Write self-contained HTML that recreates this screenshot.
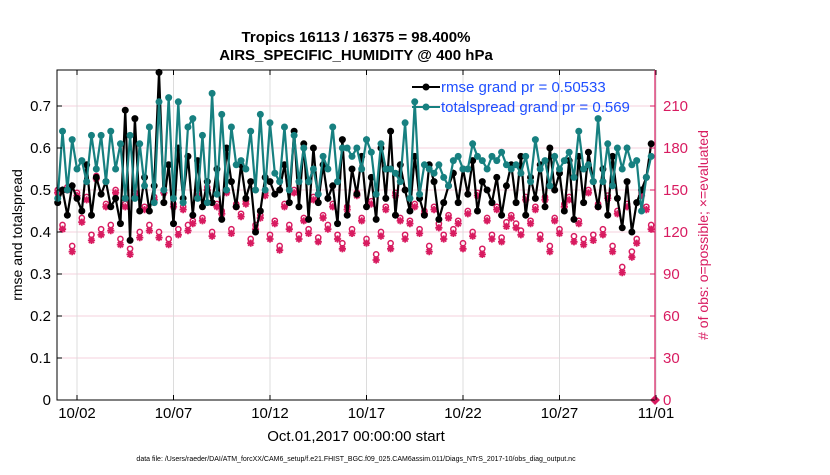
<!DOCTYPE html>
<html><head><meta charset="utf-8"><style>
body{margin:0;background:#fff;width:830px;height:470px;overflow:hidden}
svg text{font-family:"Liberation Sans",Arial,sans-serif}
</style></head><body>
<svg id="chart" width="830" height="470" xmlns="http://www.w3.org/2000/svg">
<text x="356" y="42" text-anchor="middle" font-size="15" font-weight="bold">Tropics 16113 / 16375 = 98.400%</text>
<text x="356" y="60" text-anchor="middle" font-size="15" font-weight="bold">AIRS_SPECIFIC_HUMIDITY @ 400 hPa</text>
<text transform="translate(22,235) rotate(-90)" text-anchor="middle" font-size="14">rmse and totalspread</text>
<text transform="translate(708,235) rotate(-90)" text-anchor="middle" font-size="14" fill="#d81b60"># of obs: o=possible; ×=evaluated</text>
<text x="356" y="441" text-anchor="middle" font-size="15">Oct.01,2017 00:00:00 start</text>
<text x="356" y="461" text-anchor="middle" font-size="7">data file: /Users/raeder/DAI/ATM_forcXX/CAM6_setup/f.e21.FHIST_BGC.f09_025.CAM6assim.011/Diags_NTrS_2017-10/obs_diag_output.nc</text>
<g id="grid"></g><g id="marks"></g><g id="axes"></g>
<g>
<line x1="412" y1="87" x2="440" y2="87" stroke="#000" stroke-width="2"/><circle cx="426" cy="87" r="3.5" fill="#000"/>
<text x="441" y="92" font-size="15" fill="#1f4fff">rmse grand pr = 0.50533</text>
<line x1="412" y1="107" x2="440" y2="107" stroke="#178080" stroke-width="2"/><circle cx="426" cy="107" r="3.5" fill="#178080"/>
<text x="441" y="112" font-size="15" fill="#1f4fff">totalspread grand pr = 0.569</text>
</g>
</svg>
<script>
const rmse=[0.47,0.50,0.44,0.51,0.48,0.45,0.56,0.44,0.53,0.49,0.52,0.46,0.48,0.42,0.69,0.38,0.67,0.45,0.53,0.45,0.51,0.78,0.47,0.56,0.42,0.60,0.48,0.58,
0.44,0.57,0.46,0.52,0.47,0.55,0.43,0.60,0.52,0.46,0.56,0.48,0.52,0.40,0.45,0.53,0.52,0.49,0.50,0.56,0.47,0.64,0.46,0.61,0.43,0.60,0.47,0.56,
0.48,0.51,0.42,0.62,0.44,0.55,0.49,0.58,0.46,0.53,0.43,0.60,0.48,0.64,0.44,0.56,0.50,0.45,0.58,0.48,0.44,0.56,0.52,0.43,0.47,0.51,0.54,0.47,
0.55,0.49,0.57,0.45,0.52,0.50,0.47,0.53,0.44,0.51,0.56,0.47,0.58,0.44,0.53,0.48,0.56,0.46,0.60,0.50,0.54,0.45,0.57,0.43,0.58,0.47,0.59,0.52,
0.46,0.55,0.44,0.58,0.48,0.41,0.52,0.40,0.47,0.50,0.53,0.61];
const spread=[0.48,0.64,0.50,0.62,0.55,0.57,0.52,0.63,0.55,0.63,0.52,0.64,0.55,0.61,0.48,0.63,0.48,0.61,0.51,0.65,0.47,0.71,0.50,0.72,0.48,0.71,0.47,0.65,
0.67,0.48,0.63,0.47,0.73,0.49,0.68,0.50,0.65,0.56,0.57,0.55,0.64,0.50,0.68,0.50,0.66,0.54,0.52,0.65,0.50,0.63,0.52,0.60,0.52,0.55,0.49,0.58,
0.55,0.65,0.52,0.60,0.60,0.58,0.60,0.55,0.62,0.59,0.49,0.61,0.55,0.55,0.54,0.52,0.66,0.48,0.71,0.49,0.56,0.55,0.54,0.56,0.53,0.51,0.57,0.58,
0.55,0.55,0.61,0.58,0.57,0.55,0.58,0.57,0.59,0.56,0.55,0.56,0.54,0.58,0.52,0.62,0.55,0.57,0.51,0.58,0.55,0.57,0.59,0.53,0.64,0.55,0.56,0.52,
0.67,0.52,0.61,0.51,0.60,0.55,0.60,0.56,0.57,0.45,0.53,0.58];
const possible=[150,125,152,110,148,130,145,118,160,122,140,125,150,115,140,108,148,120,138,125,145,120,150,115,140,122,138,125,
128,148,130,152,120,140,135,150,122,140,133,142,115,125,132,148,118,128,110,140,125,150,118,130,122,145,116,132,
125,140,118,112,138,122,148,130,115,142,104,120,138,112,148,130,118,128,140,122,135,110,138,126,118,132,122,128,
112,135,120,148,108,130,118,138,116,127,132,126,121,145,128,138,118,145,110,130,122,140,145,117,128,115,150,118,
140,122,146,110,135,95,140,106,115,148,138,125];
const evaluated=[148,122,150,106,146,127,143,114,158,118,138,121,148,111,138,104,146,116,136,121,143,116,148,111,138,118,136,121,
126,146,128,150,117,138,133,148,119,138,131,140,112,122,130,146,115,126,107,138,122,148,115,128,119,143,113,130,
122,138,115,108,136,119,146,128,112,140,100,117,136,108,146,128,115,126,138,119,133,106,136,123,115,130,119,126,
108,133,117,146,104,128,115,136,113,124,130,123,118,143,126,136,115,143,106,128,119,138,143,113,126,111,148,114,
138,118,144,106,133,91,138,102,112,146,136,122];
const yTicks=[0,0.1,0.2,0.3,0.4,0.5,0.6,0.7];
const y2Ticks=[0,30,60,90,120,150,180,210];
const xTickDays=[1,6,11,16,21,26,31];
const xTickLabels=["10/02","10/07","10/12","10/17","10/22","10/27","11/01"];
const L=57,R=655,T=70,B=400,pink="#d81b60",teal="#178080";
const xs=d=>L+0.7+d*19.3;
const ys=v=>B-v*420;
const y2=v=>B-v*1.4;
const NS="http://www.w3.org/2000/svg";
function mk(tag,parent,attrs){const e=document.createElementNS(NS,tag);for(const k in attrs)e.setAttribute(k,attrs[k]);parent.appendChild(e);return e;}
const grid=document.getElementById('grid'),marks=document.getElementById('marks'),axes=document.getElementById('axes');
yTicks.forEach((t,i)=>{
 const g=mk('line',grid,{x1:L,x2:R,y1:ys(t),y2:ys(t),stroke:'#f6d0dd','stroke-width':1});
 
 
 const tx=mk('text',axes,{x:L-6,y:ys(t)+5,'text-anchor':'end','font-size':15});
 tx.textContent=t===0?'0':t.toFixed(1);
 
 
 mk('line',axes,{x1:L,x2:L+5,y1:ys(t),y2:ys(t),stroke:'#000'});
});
y2Ticks.forEach(t=>{
 const tx=mk('text',axes,{x:R+8,y:y2(t)+5,'font-size':15,fill:pink});
 tx.textContent=t;
 
 
 mk('line',axes,{x1:R-5,x2:R,y1:y2(t),y2:y2(t),stroke:pink});
});
xTickDays.forEach((d,i)=>{
 const g=mk('line',grid,{x1:xs(d),x2:xs(d),y1:T,y2:B,stroke:'#dcdcdc'});
 
 
 mk('line',axes,{x1:xs(d),x2:xs(d),y1:B,y2:B-5,stroke:'#000'});
 mk('line',axes,{x1:xs(d),x2:xs(d),y1:T,y2:T+5,stroke:'#000'});
 const tx=mk('text',axes,{x:xs(d),y:418,'text-anchor':'middle','font-size':15});
 tx.textContent=xTickLabels[i];
 
 
});
mk('path',axes,{d:`M${R},${T}H${L}V${B}H${R}`,fill:'none',stroke:'#000','stroke-width':1});
mk('line',axes,{x1:R,x2:R,y1:T,y2:B,stroke:pink,'stroke-width':1.2});
const dx=i=>xs(i*0.25);
possible.forEach((v,i)=>{
 const c=mk('circle',marks,{cx:dx(i),cy:y2(v),r:2.6,fill:'none',stroke:pink,'stroke-width':1.5});
 
 
});
evaluated.forEach((v,i)=>{
 const x=dx(i),y=y2(v),r=3.6;
 const s=mk('path',marks,{d:`M${x-r},${y}H${x+r}M${x},${y-r}V${y+r}M${x-2.6},${y-2.6}L${x+2.6},${y+2.6}M${x-2.6},${y+2.6}L${x+2.6},${y-2.6}`,stroke:pink,'stroke-width':1.8,fill:'none'});
 
 
});
function series(arr,col,name){
 const p=mk('polyline',marks,{points:arr.map((v,i)=>dx(i)+','+ys(v)).join(' '),fill:'none',stroke:col,'stroke-width':2.2});
 
 
 arr.forEach((v,i)=>{
  const c=mk('circle',marks,{cx:dx(i),cy:ys(v),r:3.5,fill:col});
  
  
 });
}
series(rmse,'#000','rmse');
series(spread,teal,'totalspread');
const end=mk('path',marks,{d:`M${R},${B-5}l5,5l-5,5l-5,-5z`,fill:pink});


</script>
</body></html>
